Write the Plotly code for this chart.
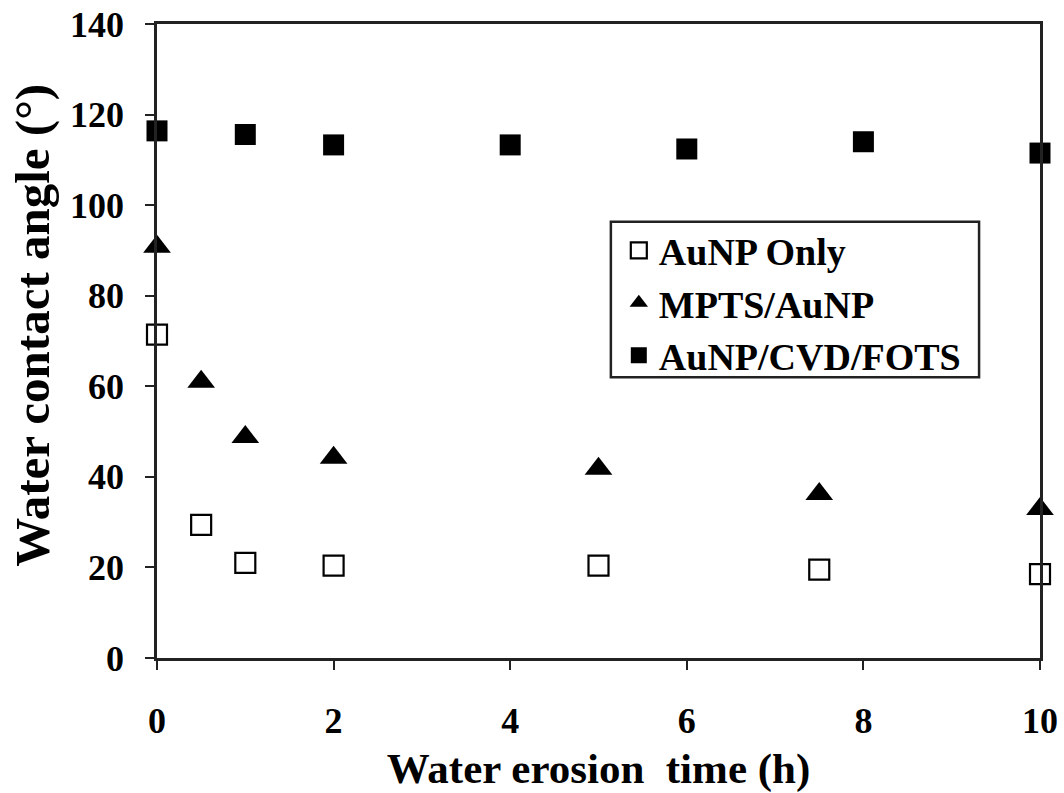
import plotly.graph_objects as go

# Water erosion time (h) and measured water contact angles (deg)
time_aunp = [0, 0.5, 1, 2, 5, 7.5, 10]
angle_aunp = [71.4, 29.4, 21.0, 20.4, 20.4, 19.5, 18.5]

time_mpts = [0, 0.5, 1, 2, 5, 7.5, 10]
angle_mpts = [90.8, 61.0, 48.8, 44.2, 41.8, 36.2, 32.9]

time_fots = [0, 1, 2, 4, 6, 8, 10]
angle_fots = [116.4, 115.6, 113.3, 113.3, 112.4, 114.0, 111.5]

series_names = ["AuNP Only", "MPTS/AuNP", "AuNP/CVD/FOTS"]
x_ticks = [0, 2, 4, 6, 8, 10]
y_ticks = [0, 20, 40, 60, 80, 100, 120, 140]

FONT = "Liberation Serif"

fig = go.Figure()
fig.add_trace(go.Scatter(
    x=time_aunp, y=angle_aunp, mode="markers", name=series_names[0],
    marker=dict(symbol="square-open", size=20, color="black", line=dict(width=2.2, color="#222")),
    cliponaxis=False,
))
fig.add_trace(go.Scatter(
    x=time_mpts, y=angle_mpts, mode="markers", name=series_names[1],
    marker=dict(symbol="triangle-up", size=24, color="black", line=dict(width=0)),
    cliponaxis=False,
))
fig.add_trace(go.Scatter(
    x=time_fots, y=angle_fots, mode="markers", name=series_names[2],
    marker=dict(symbol="square", size=21, color="black", line=dict(width=0)),
    cliponaxis=False,
))

axis_common = dict(
    showgrid=False, zeroline=False, showline=True, linecolor="#222", linewidth=2.5,
    ticks="outside", ticklen=9, tickwidth=2, tickcolor="#222", mirror=True,
    tickfont=dict(family=FONT, size=36, color="black", weight="bold"),
    automargin=False,
)

fig.update_xaxes(
    range=[0, 10], tickvals=x_ticks, ticktext=[str(v) for v in x_ticks],
    ticklabelstandoff=20,
    title=dict(text="Water erosion  time (h)", font=dict(family=FONT, size=43, color="black", weight="bold"), standoff=14),
    **axis_common,
)
fig.update_yaxes(
    range=[0, 140], tickvals=y_ticks, ticktext=[str(v) for v in y_ticks],
    ticklabelstandoff=14,
    **axis_common,
)

# Y-axis title placed as a rotated annotation
fig.add_annotation(
    text="Water contact angle (°)", textangle=-90,
    xref="paper", yref="paper", x=-0.141, y=0.525,
    xanchor="center", yanchor="middle", showarrow=False,
    font=dict(family=FONT, size=49, color="black", weight="bold"),
)

# Legend frame
fig.add_shape(
    type="rect", xref="paper", yref="paper",
    x0=0.514, x1=0.931, y0=0.443, y1=0.688,
    line=dict(color="#222", width=2.5), fillcolor="white", layer="above",
)

fig.update_layout(
    width=1064, height=793,
    margin=dict(l=157, r=24, t=24, b=135),
    paper_bgcolor="white", plot_bgcolor="white",
    legend=dict(
        x=0.523, y=0.692, xanchor="left", yanchor="top",
        bgcolor="rgba(0,0,0,0)", borderwidth=0,
        font=dict(family=FONT, size=38, color="black", weight="bold"),
        itemsizing="trace", tracegroupgap=0, itemwidth=30,
    ),
    showlegend=True,
)

fig.write_html("out.html")
